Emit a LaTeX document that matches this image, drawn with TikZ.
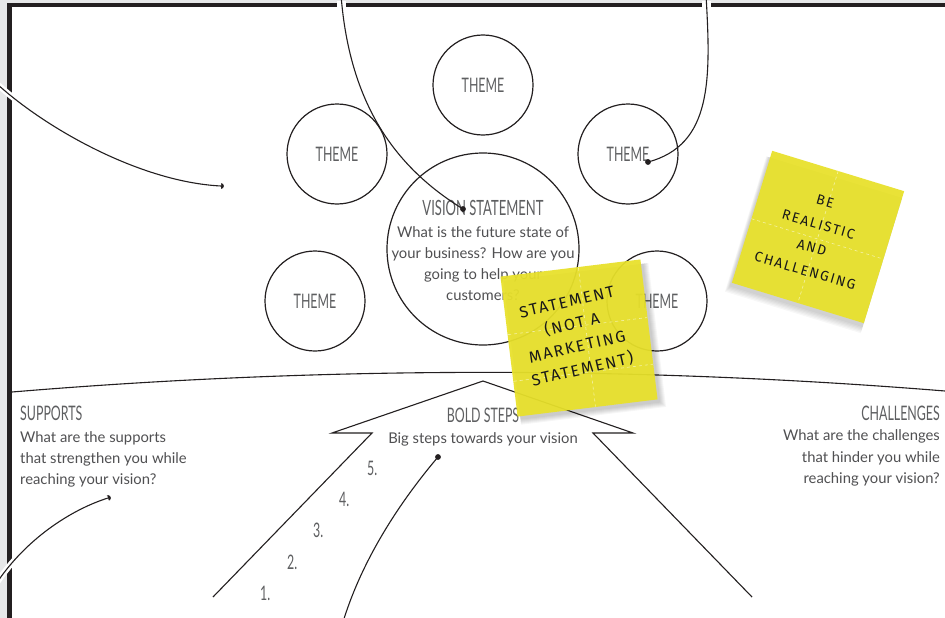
\documentclass[tikz,border=0pt]{standalone}
\usepackage{fontspec}
\setmainfont{Lato}
\newfontfamily\headfont[FakeStretch=0.62]{Lato}
\newfontfamily\handfont[LetterSpace=12.0]{Fira Sans}
\definecolor{txtgray}{HTML}{505052}
\definecolor{headgray}{HTML}{5E5F61}
\definecolor{framegray}{HTML}{E6E7E8}
\definecolor{inkblack}{HTML}{231F20}
\definecolor{stickyyellow}{HTML}{E8E12B}
\begin{document}
\begin{tikzpicture}[x=1pt,y=-1pt,
  themec/.style={circle, draw=inkblack, line width=1.2pt, minimum size=100pt, inner sep=0pt,
                 font=\headfont\fontsize{20}{20}\selectfont, text=headgray},
  head/.style={font=\headfont\fontsize{20}{20}\selectfont, text=headgray, inner sep=0pt},
  body/.style={font=\fontsize{14.8}{21}\selectfont, text=txtgray, inner sep=0pt},
  link/.style={draw=inkblack, line width=1.1pt},
  dotmark/.style={circle, fill=inkblack, inner sep=0pt, minimum size=5.8pt},
  note/.style={rectangle, fill=stickyyellow, fill opacity=0.94, minimum size=141pt, inner sep=0pt},
  fold/.style={draw=white, opacity=0.55, dashed, line width=0.6pt},
  hand/.style={font=\handfont, text=black!90, align=center, inner sep=0pt}]
\useasboundingbox (0,0) rectangle (945,618);
% page and frame
\fill[framegray] (0,0) rectangle (945,618);
\fill[white] (9.5,5.3) rectangle (945,618);
\draw[inkblack, line width=4.2pt] (9.5,625) -- (9.5,5.3) -- (952,5.3);

% theme circles
\node[themec] (t1) at (483,85) {THEME};
\node[themec] (t2) at (337,154) {THEME};
\node[themec] (t3) at (628,154) {THEME};
\node[themec] (t4) at (315,301) {THEME};
\node[themec] (t5) at (657,301) {THEME};
\node[circle, draw=inkblack, line width=1.2pt, minimum size=192pt, inner sep=0pt] (vision) at (483,249) {};

% vision text
\node[head, font=\headfont\fontsize{21}{21}\selectfont, anchor=base] (vtitle) at (483,215) {VISION STATEMENT};
\node[body, anchor=base] (vb1) at (483,237) {What is the future state of};
\node[body, anchor=base] (vb2) at (483,258) {your business? How are you};
\node[body, anchor=base] (vb3) at (483,279) {going to help your};
\node[body, anchor=base] (vb4) at (483,300) {customers?};

% big arc and arrow
\draw[link] (12,392) .. controls (324,366) and (636,366) .. (945,391);
\draw[link, line join=miter] (213,597) -- (372,433) -- (332,433) -- (483,381) -- (633,433) -- (593,433) -- (752,597);

% supports
\node[head, anchor=base west] (sup) at (20,420) {SUPPORTS};
\node[body, anchor=base west] (sup1) at (20,442) {What are the supports};
\node[body, anchor=base west] (sup2) at (20,463) {that strengthen you while};
\node[body, anchor=base west] (sup3) at (20,484) {reaching your vision?};

% challenges
\node[head, anchor=base east] (cha) at (940,420) {CHALLENGES};
\node[body, anchor=base east] (cha1) at (940,440) {What are the challenges};
\node[body, anchor=base east] (cha2) at (940,462) {that hinder you while};
\node[body, anchor=base east] (cha3) at (940,483) {reaching your vision?};

% bold steps
\node[head, anchor=base] (bold) at (483,422) {BOLD STEPS};
\node[body, anchor=base] (bold1) at (483,443) {Big steps towards your vision};
\node[head, anchor=base west] (s5) at (367,475) {5.};
\node[head, anchor=base west] (s4) at (339,506) {4.};
\node[head, anchor=base west] (s3) at (313,537) {3.};
\node[head, anchor=base west] (s2) at (287,569) {2.};
\node[head, anchor=base west] (s1) at (260,600) {1.};

% connectors with dots
\node[dotmark] (d1) at (221,186) {};
\node[dotmark] (d2) at (463,209) {};
\node[dotmark] (d3) at (648,162) {};
\node[dotmark] (d4) at (108,498) {};
\node[dotmark] (d5) at (438,457) {};
\coordinate (e1) at (-4,83);
\coordinate (e2) at (341,-5);
\coordinate (e3) at (706,-5);
\coordinate (e4) at (-4,584);
\coordinate (e5) at (343,622);
\fill[white] (337,1) rectangle (346,10);
\fill[white] (702,1) rectangle (711,10);
\draw[link, preaction={draw=white, line width=6pt}] (e1) .. controls (45,128) and (140,182) .. (d1.center);
\draw[link] (e2) .. controls (350,110) and (400,170) .. (d2.center);
\draw[link] (e3) .. controls (711,80) and (712,145) .. (d3.center);
\draw[link, preaction={draw=white, line width=6pt}] (d4.center) .. controls (70,510) and (25,540) .. (e4);
\draw[link] (d5.center) .. controls (410,490) and (365,550) .. (e5);

% sticky note 1
\begin{scope}[shift={(579,338)}, rotate=7, transform shape]
  \foreach \k in {0,...,5} {\fill[black, opacity=0.035] (-68,-66) rectangle (73+\k,74+\k);}
  \node[note] (n1) at (0,0) {};
  \draw[fold] (8,-70) -- (8,70);
  \draw[fold] (-70,-12) -- (70,-12);
  \draw[fold] (-70,35) -- (70,35);
  \node[hand, font=\handfont\fontsize{16}{23}\selectfont, rotate=6] (n1t) at (-4,-2)
     {STATEMENT\\(NOT A\\MARKETING\\STATEMENT)};
\end{scope}

% sticky note 2
\begin{scope}[shift={(818,237)}, rotate=-17, transform shape]
  \foreach \k in {0,...,5} {\fill[black, opacity=0.03] (-70-\k*0.6,-62) rectangle (69,73+\k*1.3);}
  \node[note, minimum size=138pt] (n2) at (0,0) {};
  \draw[fold] (0,-69) -- (0,69);
  \draw[fold] (-69,2) -- (69,2);
  \node[hand, font=\handfont\fontsize{14}{24}\selectfont, rotate=1] (n2t) at (-3,0)
     {BE\\REALISTIC\\AND\\CHALLENGING};
\end{scope}
\end{tikzpicture}
\end{document}
